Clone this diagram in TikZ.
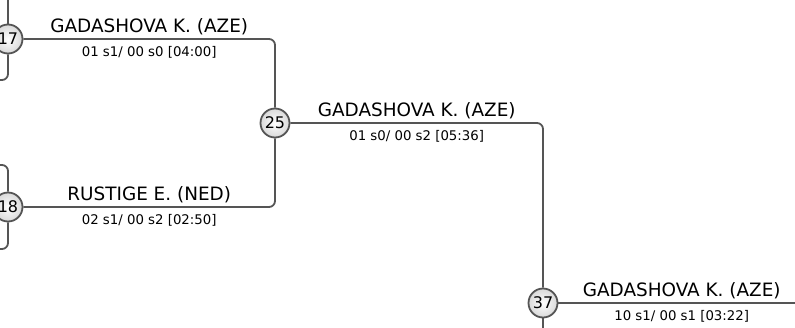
\documentclass[tikz,border=0pt]{standalone}
\usepackage{fontspec}
\setmainfont{DejaVu Sans}
\usepackage{tikz}
\usetikzlibrary{arrows,shapes,positioning}
\definecolor{linegray}{HTML}{555555}

\begin{document}
\begin{tikzpicture}[x=1pt, y=-1pt, every node/.style={scale=1.0},
  match/.style={circle, draw=linegray, line width=1.8pt, minimum size=29pt, inner sep=0pt,
    inner color=white, outer color=gray!30, font=\fontsize{16}{16}\selectfont},
  bar/.style={draw=linegray, line width=1.8pt, rounded corners=6pt},
  player/.style={pos=0.25, above=3pt, inner sep=0pt, font=\fontsize{18.4}{19}\selectfont},
  result/.style={pos=0.25, below=6pt, inner sep=0pt, font=\fontsize{13.3}{14}\selectfont}]
   \clip (0,0) rectangle (795,327);

   \node[match] (17) at (8,39) {17};
   \node[match] (18) at (8,207) {18};
   \node[match] (25) at (275,123) {25};
   \node[match] (37) at (543,303) {37};

   % loose ends, cut off by the frame
   \coordinate (t17) at (8,-10);
   \coordinate (b17) at (-20,80);
   \coordinate (t18) at (-20,165);
   \coordinate (b18) at (-20,249);
   \coordinate (b37) at (543,340);
   \coordinate (e37) at (805,303);

  \draw[bar] (t17) -- (17);
  \draw[bar] (17) |- (b17);
  \draw[bar] (t18) -| (18);
  \draw[bar] (18) |- (b18);
  \draw[bar] (37) -- (b37);

  \draw[bar] (17) -| node[player] {GADASHOVA K. (AZE)} node[result] {01 s1/ 00 s0 [04:00]} (25);
  \draw[bar] (18) -| node[player] {RUSTIGE E. (NED)} node[result] {02 s1/ 00 s2 [02:50]} (25);
  \draw[bar] (25) -| node[player] {GADASHOVA K. (AZE)} node[result] {01 s0/ 00 s2 [05:36]} (37);
  \draw[bar] (37) -- node[player, pos=0.5] {GADASHOVA K. (AZE)} node[result, pos=0.5] {10 s1/ 00 s1 [03:22]} (e37);

\end{tikzpicture}
\end{document}
